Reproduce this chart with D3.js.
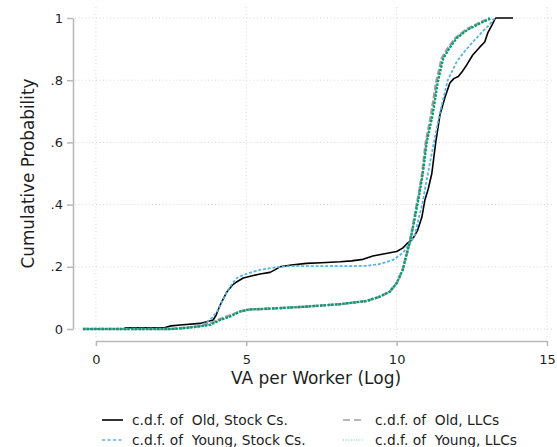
<!DOCTYPE html>
<html>
<head>
<meta charset="utf-8">
<script src="https://cdn.jsdelivr.net/npm/d3@7"></script>
<style>
  html, body { margin: 0; padding: 0; background: #fff; }
  svg { display: block; font-family: "DejaVu Sans", Verdana, sans-serif; }
  text { fill: #1e1e1e; }
</style>
</head>
<body>
<svg id="chart" width="557" height="447"></svg>
<script>
// Empirical c.d.f. of log value added per worker, by firm age and legal form
const oldStock = [
  [-0.43,0],[0.95,0],[0.97,0.004],[2.3,0.005],[2.5,0.01],[2.8,0.013],[3.46,0.018],
  [3.9,0.029],[4.0,0.045],[4.13,0.077],[4.36,0.12],[4.55,0.142],[4.69,0.152],
  [4.9,0.164],[5.2,0.171],[5.46,0.177],[5.79,0.182],[5.95,0.19],[6.12,0.2],
  [6.5,0.206],[7.0,0.211],[7.5,0.213],[8.12,0.216],[8.5,0.219],[8.88,0.224],
  [9.21,0.235],[9.6,0.242],[10.0,0.249],[10.2,0.26],[10.35,0.275],[10.5,0.286],
  [10.6,0.3],[10.7,0.318],[10.84,0.36],[10.94,0.415],[11.05,0.45],[11.17,0.5],
  [11.3,0.6],[11.44,0.688],[11.6,0.743],[11.77,0.791],[11.9,0.805],[12.05,0.812],
  [12.17,0.826],[12.33,0.849],[12.53,0.881],[12.77,0.907],[12.93,0.923],
  [13.03,0.952],[13.17,0.977],[13.27,0.997],[13.3,1],[13.87,1]
];
const youngStock = [
  [-0.43,0],[2.5,0],[3.0,0.004],[3.5,0.012],[3.7,0.023],[3.85,0.035],[4.03,0.056],
  [4.2,0.09],[4.36,0.12],[4.55,0.148],[4.69,0.164],[4.9,0.174],[5.2,0.183],
  [5.46,0.19],[5.8,0.196],[6.12,0.2],[6.5,0.202],[7.5,0.202],[8.5,0.202],
  [9.0,0.203],[9.44,0.209],[9.88,0.222],[10.2,0.244],[10.44,0.276],[10.6,0.3],
  [10.72,0.35],[10.85,0.4],[11.04,0.5],[11.24,0.6],[11.45,0.7],[11.7,0.8],
  [12.0,0.86],[12.27,0.894],[12.6,0.93],[12.87,0.958],[13.1,0.98],[13.2,0.994],
  [13.3,1]
];
const oldLLC = [
  [-0.43,0],[2.5,0],[3.0,0.004],[3.5,0.01],[3.9,0.022],[4.2,0.035],[4.5,0.045],
  [4.8,0.057],[5.12,0.063],[5.46,0.064],[5.9,0.066],[7.0,0.072],[8.12,0.08],
  [9.0,0.09],[9.44,0.104],[9.77,0.12],[10.0,0.147],[10.2,0.19],[10.37,0.254],
  [10.44,0.28],[10.54,0.33],[10.63,0.38],[10.73,0.43],[10.85,0.5],[10.97,0.6],
  [11.15,0.69],[11.32,0.795],[11.5,0.87],[11.72,0.905],[11.95,0.935],
  [12.3,0.962],[12.75,0.984],[13.0,0.995],[13.1,1]
];
const youngLLC = [
  [-0.43,0],[2.5,0],[2.8,0.002],[3.36,0.007],[3.8,0.013],[4.13,0.029],[4.46,0.04],
  [4.79,0.056],[5.12,0.063],[5.46,0.064],[5.9,0.066],[7.0,0.072],[8.12,0.08],
  [9.0,0.09],[9.44,0.104],[9.77,0.12],[10.0,0.147],[10.2,0.19],[10.37,0.254],
  [10.44,0.28],[10.55,0.33],[10.65,0.38],[10.75,0.43],[10.87,0.5],[11.0,0.6],
  [11.2,0.69],[11.37,0.795],[11.55,0.87],[11.77,0.905],[12.0,0.935],
  [12.35,0.962],[12.8,0.984],[13.05,0.995],[13.15,1]
];

const xTicks = [0, 5, 10, 15];
const yTicks = [0, 0.2, 0.4, 0.6, 0.8, 1];
const yTickLabels = ["0", ".2", ".4", ".6", ".8", "1"];

const seriesNames = [
  "c.d.f. of  Old, Stock Cs.",
  "c.d.f. of  Young, Stock Cs.",
  "c.d.f. of  Old, LLCs",
  "c.d.f. of  Young, LLCs"
];

const svg = d3.select("#chart");

const x = d3.scaleLinear().domain([0, 15]).range([95.9, 547]);
const y = d3.scaleLinear().domain([0, 1]).range([329, 18]);

// plot region bounds for the grid
const gridLeft = 75, gridRight = 553, gridTop = 7, gridBottom = 337;

const grid = svg.append("g")
  .attr("stroke", "#d6d6d6")
  .attr("stroke-width", 1)
  .attr("stroke-dasharray", "1,2.5");
grid.selectAll("line.h").data(yTicks).join("line")
  .attr("x1", gridLeft).attr("x2", gridRight)
  .attr("y1", d => y(d)).attr("y2", d => y(d));
grid.selectAll("line.v").data(xTicks).join("line")
  .attr("x1", d => x(d)).attr("x2", d => x(d))
  .attr("y1", gridTop).attr("y2", gridBottom);

// axes
const yAxis = d3.axisLeft(y)
  .tickValues(yTicks)
  .tickFormat((d, i) => yTickLabels[i])
  .tickSize(6).tickSizeOuter(0).tickPadding(4);
const xAxis = d3.axisBottom(x)
  .tickValues(xTicks)
  .tickFormat(d3.format("d"))
  .tickSize(5).tickSizeOuter(0).tickPadding(9);

function styleAxis(g) {
  g.select(".domain").attr("stroke", "#b8b8b8").attr("stroke-width", 1.5);
  g.selectAll(".tick line").attr("stroke", "#b8b8b8").attr("stroke-width", 1.5);
  g.selectAll(".tick text")
    .attr("fill", "#1e1e1e")
    .style("font-family", "DejaVu Sans, Verdana, sans-serif")
    .style("font-size", "13px");
}

svg.append("g").attr("transform", "translate(73,0)").call(yAxis).call(styleAxis);
svg.append("g").attr("transform", "translate(0,341)").call(xAxis).call(styleAxis);

// axis titles
svg.append("text")
  .attr("x", 316).attr("y", 384)
  .attr("text-anchor", "middle")
  .style("font-size", "17px")
  .text("VA per Worker (Log)");
svg.append("text")
  .attr("transform", "translate(34,173.5) rotate(-90)")
  .attr("text-anchor", "middle")
  .style("font-size", "16.8px")
  .text("Cumulative Probability");

// curves
const line = d3.line().x(d => x(d[0])).y(d => y(d[1])).curve(d3.curveLinear);

const styles = [
  { data: oldStock,   color: "#000000", width: 1.6, dash: null,     keyWidth: 1.6, keyDash: null },
  { data: youngStock, color: "#56b4e9", width: 1.8, dash: "3,1.8",  keyWidth: 1.5, keyDash: "3,2.5" },
  { data: oldLLC,     color: "#a0a0a0", width: 2.6, dash: "6,2",    keyWidth: 1.3, keyDash: "7,4" },
  { data: youngLLC,   color: "#009e73", width: 2.3, dash: "2.5,1.2", keyWidth: 1, keyDash: "1,1.6" }
];

const curves = svg.append("g").attr("fill", "none").attr("stroke-linejoin", "round");
styles.forEach(s => {
  curves.append("path")
    .datum(s.data)
    .attr("d", line)
    .attr("stroke", s.color)
    .attr("stroke-width", s.width)
    .attr("stroke-dasharray", s.dash);
});

// legend: two columns, two rows
const legendPos = [
  { kx: 102, tx: 132, y: 420 },
  { kx: 102, tx: 132, y: 440 },
  { kx: 343, tx: 375, y: 420 },
  { kx: 343, tx: 375, y: 440 }
];
const legend = svg.append("g");
seriesNames.forEach((name, i) => {
  const p = legendPos[i], s = styles[i];
  legend.append("line")
    .attr("x1", p.kx).attr("x2", p.kx + 21)
    .attr("y1", p.y).attr("y2", p.y)
    .attr("stroke", s.color)
    .attr("stroke-width", s.keyWidth)
    .attr("stroke-dasharray", s.keyDash)
    .attr("opacity", i === 3 ? 0.6 : 1);
  legend.append("text")
    .attr("x", p.tx).attr("y", p.y + 5)
    .style("font-size", "13.8px")
    .style("white-space", "pre")
    .text(name);
});
</script>
</body>
</html>
